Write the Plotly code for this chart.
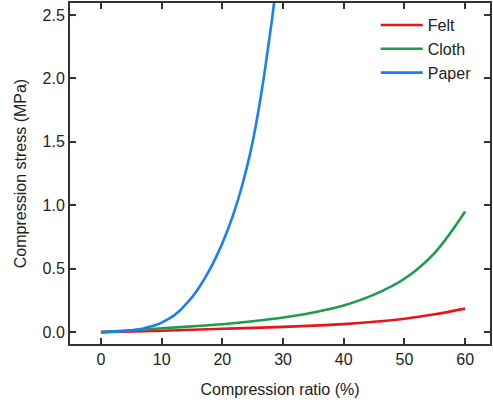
import plotly.graph_objects as go

# Compression ratio (%) sample points for each material
felt_x = [0, 5, 10, 15, 20, 25, 30, 35, 40, 45, 50, 55, 60]
felt_y = [0, 0.004, 0.01, 0.018, 0.026, 0.033, 0.041, 0.051, 0.063, 0.081, 0.105, 0.14, 0.185]

cloth_x = [0, 5, 10, 15, 20, 25, 30, 35, 40, 45, 50, 55, 60]
cloth_y = [0, 0.014, 0.03, 0.045, 0.062, 0.085, 0.115, 0.155, 0.21, 0.295, 0.42, 0.625, 0.95]

paper_x = list(range(0, 30))
paper_y = [0, 0.001, 0.003, 0.005, 0.009, 0.014, 0.02, 0.029, 0.041, 0.056,
           0.075, 0.1, 0.13, 0.17, 0.22, 0.275, 0.34, 0.415, 0.5, 0.595,
           0.7, 0.82, 0.955, 1.11, 1.29, 1.5, 1.76, 2.06, 2.4, 2.78]

x_ticks = [0, 10, 20, 30, 40, 50, 60]
y_ticks = [0.0, 0.5, 1.0, 1.5, 2.0, 2.5]
y_tick_labels = ["0.0", "0.5", "1.0", "1.5", "2.0", "2.5"]

FONT = "Liberation Sans, Arial, sans-serif"
AXIS_COLOR = "#333333"
TEXT_COLOR = "#222222"

fig = go.Figure()
series = [
    ("Felt", felt_x, felt_y, "#e8141c"),
    ("Cloth", cloth_x, cloth_y, "#1f9d4e"),
    ("Paper", paper_x, paper_y, "#1a7ff5"),
]
for name, xs, ys, color in series:
    fig.add_trace(go.Scatter(
        x=xs, y=ys, name=name, mode="lines",
        line=dict(color=color, width=2.6, shape="spline", smoothing=1.0),
    ))

axis_common = dict(
    showline=True, linecolor=AXIS_COLOR, linewidth=2, mirror="allticks",
    ticks="inside", ticklen=6, tickwidth=1.5, tickcolor=AXIS_COLOR,
    showgrid=False, zeroline=False,
    tickfont=dict(family=FONT, size=16, color=TEXT_COLOR),
    title_font=dict(family=FONT, size=16, color=TEXT_COLOR),
)

fig.update_xaxes(
    range=[-5.1, 64.1], tickvals=x_ticks,
    title_text="Compression ratio (%)", title_standoff=17,
    **axis_common,
)
fig.update_yaxes(
    range=[-0.094, 2.594], tickvals=y_ticks, ticktext=y_tick_labels,
    title_text="Compression stress (MPa)", title_standoff=12,
    **axis_common,
)

fig.update_layout(
    width=493, height=406,
    margin=dict(l=70, r=1, t=1, b=62),
    plot_bgcolor="white", paper_bgcolor="white",
    font=dict(family=FONT, size=16, color=TEXT_COLOR),
    legend=dict(
        x=0.728, y=0.985, xanchor="left", yanchor="top",
        bgcolor="rgba(0,0,0,0)", itemwidth=42,
        font=dict(family=FONT, size=16, color=TEXT_COLOR),
        tracegroupgap=0,
    ),
)

fig.write_html("out.html")
